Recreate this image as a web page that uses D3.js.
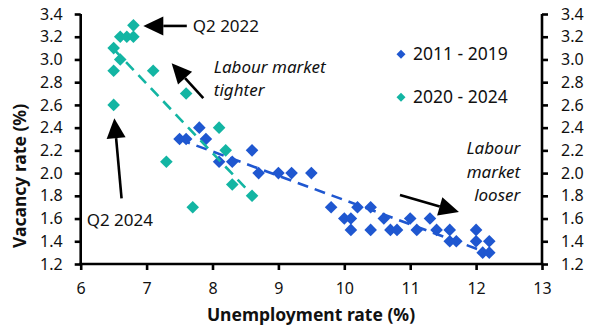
<!DOCTYPE html>
<html><head><meta charset="utf-8">
<script src="https://cdn.jsdelivr.net/npm/d3@7/dist/d3.min.js"></script>
<style>
html,body{margin:0;padding:0;background:#fff;}
svg{display:block;font-family:"Noto Sans","Open Sans",sans-serif;}
</style></head>
<body><svg id="c" width="589" height="330"></svg>
<script>
// ---- data (unemployment %, vacancy %) ----
const seriesNames = ["2011 - 2019", "2020 - 2024"];
const unemp2011_2019 = [7.8,7.5,7.6,7.9,8.6,8.1,8.3,8.7,9.0,9.2,9.5,
  9.8,10.0,10.1,10.2,10.1,10.4,10.4,10.6,10.7,10.8,11.0,11.1,11.3,11.4,11.6,11.6,11.7,
  12.0,12.0,12.2,12.1,12.2];
const vac2011_2019 = [2.4,2.3,2.3,2.3,2.2,2.1,2.1,2.0,2.0,2.0,2.0,
  1.7,1.6,1.6,1.7,1.5,1.7,1.5,1.6,1.5,1.5,1.6,1.5,1.6,1.5,1.5,1.4,1.4,
  1.5,1.4,1.4,1.3,1.3];
const unemp2020_2024 = [6.8,6.6,6.7,6.8,6.5,6.6,6.5,7.1,7.6,6.5,8.1,8.2,7.3,8.3,8.6,7.7];
const vac2020_2024   = [3.3,3.2,3.2,3.2,3.1,3.0,2.9,2.9,2.7,2.6,2.4,2.2,2.1,1.9,1.8,1.7];
const xTicks = [6,7,8,9,10,11,12,13];
const yTicks = [1.2,1.4,1.6,1.8,2.0,2.2,2.4,2.6,2.8,3.0,3.2,3.4];
const xTitle = "Unemployment rate (%)";
const yTitle = "Vacancy rate (%)";

// ---- layout ----
const colors = ["#1f57d0", "#13b5a3"];
const svg = d3.select("#c");
const x = d3.scaleLinear().domain([6,13]).range([80.7,542]);
const y = d3.scaleLinear().domain([1.2,3.4]).range([264,14]);
const FS = 16;

// annotations in data coordinates
const annotations = [
  {type:"arrow", from:[7.61,3.295], to:[6.95,3.295]},
  {type:"arrow", from:[7.86,2.659], to:[7.38,2.967]},
  {type:"arrow", from:[6.62,1.778], to:[6.51,2.483]},
  {type:"arrow", from:[10.845,1.807], to:[11.74,1.658]},
  {type:"text", at:[7.70,3.295], lines:["Q2 2022"], italic:false, anchor:"start"},
  {type:"text", at:[8.02,2.937], lines:["Labour market","tighter"], italic:true, anchor:"start"},
  {type:"text", at:[6.09,1.587], lines:["Q2 2024"], italic:false, anchor:"start"},
  {type:"text", at:[12.67,2.218], lines:["Labour","market","looser"], italic:true, anchor:"end"}
];
const legendAt = [[10.86,3.046],[10.86,2.667]];

const diamond = (s)=> `M0,${-s}L${s},0L0,${s}L${-s},0Z`;

// axes
const gx = svg.append("g").attr("transform",`translate(0,${y(1.2)})`)
  .call(d3.axisBottom(x).tickValues(xTicks).tickSize(6).tickPadding(13).tickFormat(d3.format("d")));
const gyL = svg.append("g").attr("transform",`translate(${x(6)},0)`)
  .call(d3.axisLeft(y).tickValues(yTicks).tickSize(6).tickPadding(12).tickFormat(d3.format(".1f")));
const gyR = svg.append("g").attr("transform",`translate(${x(13)},0)`)
  .call(d3.axisRight(y).tickValues(yTicks).tickSize(6).tickPadding(13).tickFormat(d3.format(".1f")));
[gx,gyL,gyR].forEach(g=>{
  g.select(".domain").attr("stroke","#000").attr("stroke-width",2.6);
  g.selectAll(".tick line").attr("stroke","#000").attr("stroke-width",2.6);
  g.selectAll(".tick text").attr("font-size",FS).attr("fill","#111").attr("font-family","Noto Sans");
});
gx.select(".domain").attr("d",`M${x(6)-1.3},0H${x(13)+1.3}`);
gyL.select(".domain").attr("d",`M0,${y(3.4)}V${y(1.2)}`);
gyR.select(".domain").attr("d",`M0,${y(3.4)}V${y(1.2)}`);

// titles
svg.append("text").attr("x",311).attr("y",315).attr("dy","0.35em")
  .attr("text-anchor","middle").attr("font-weight","bold").attr("font-size",17.5).attr("fill","#111").text(xTitle);
svg.append("text").attr("transform","translate(20,176) rotate(-90)").attr("dy","0.35em")
  .attr("text-anchor","middle").attr("font-weight","bold").attr("font-size",17.5).attr("fill","#111").text(yTitle);

// markers
const sets = [
  {xs:unemp2011_2019, ys:vac2011_2019, c:colors[0]},
  {xs:unemp2020_2024, ys:vac2020_2024, c:colors[1]}
];
sets.forEach(s=>{
  svg.append("g").selectAll("path").data(s.xs.map((v,i)=>[v,s.ys[i]])).join("path")
    .attr("d",diamond(6.3)).attr("fill",s.c)
    .attr("transform",d=>`translate(${x(d[0])},${y(d[1])})`);
});
// linear trendlines (least squares)
sets.forEach(s=>{
  const n=s.xs.length, mx=d3.mean(s.xs), my=d3.mean(s.ys);
  let sxy=0,sxx=0; for(let i=0;i<n;i++){sxy+=(s.xs[i]-mx)*(s.ys[i]-my); sxx+=(s.xs[i]-mx)**2;}
  const b=sxy/sxx, a=my-b*mx;
  const [x0,x1]=d3.extent(s.xs);
  svg.append("line").attr("x1",x(x0)).attr("y1",y(a+b*x0)).attr("x2",x(x1)).attr("y2",y(a+b*x1))
    .attr("stroke",s.c).attr("stroke-width",2.6).attr("stroke-dasharray","11,7");
});

// legend
seriesNames.forEach((nm,i)=>{
  const [lx,ly]=legendAt[i];
  svg.append("path").attr("d",diamond(4.5)).attr("fill",colors[i])
    .attr("transform",`translate(${x(lx)},${y(ly)})`);
  svg.append("text").attr("x",x(lx)+12).attr("y",y(ly)).attr("dy","0.35em")
    .attr("font-size",17.5).attr("fill","#111").text(nm);
});

// annotations
annotations.forEach(a=>{
  if(a.type==="arrow"){
    const x0=x(a.from[0]), y0=y(a.from[1]), x1=x(a.to[0]), y1=y(a.to[1]);
    const ang=Math.atan2(y1-y0,x1-x0), L=20, W=9.5;
    const bx=x1-L*Math.cos(ang), by=y1-L*Math.sin(ang);
    svg.append("line").attr("x1",x0).attr("y1",y0).attr("x2",bx).attr("y2",by)
      .attr("stroke","#000").attr("stroke-width",2.6);
    const px=-Math.sin(ang)*W, py=Math.cos(ang)*W;
    svg.append("path").attr("d",`M${x1},${y1}L${bx+px},${by+py}L${bx-px},${by-py}Z`).attr("fill","#000");
  } else {
    const t=svg.append("text").attr("x",x(a.at[0])).attr("y",y(a.at[1]))
      .attr("font-size",17).attr("fill","#111").attr("text-anchor",a.anchor)
      .attr("font-style",a.italic?"italic":"normal");
    a.lines.forEach((ln,i)=>t.append("tspan").attr("x",x(a.at[0])).attr("dy",i===0?"0.35em":"1.38em").text(ln));
  }
});
</script></body></html>
